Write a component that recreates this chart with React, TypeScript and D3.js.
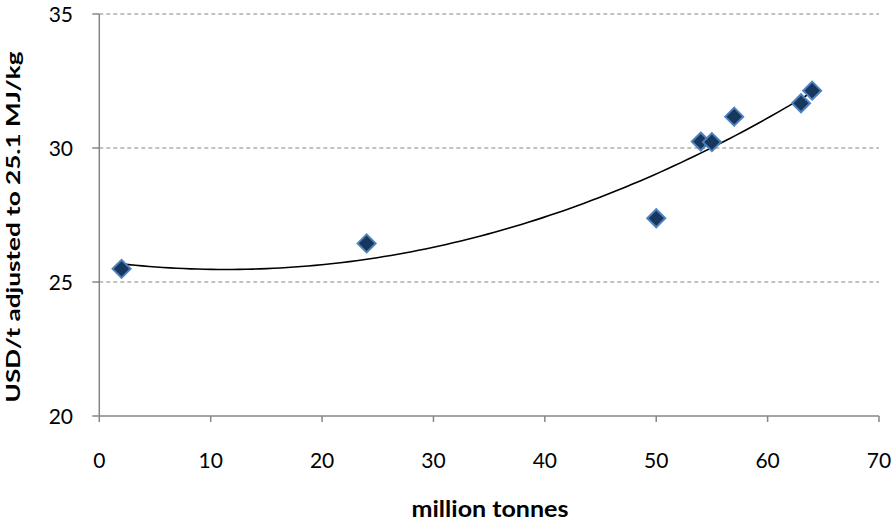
import React from "react";
import * as d3 from "d3";

const xValues = [2, 24, 50, 54, 55, 57, 63, 64];
const yValues = [25.49, 26.44, 27.38, 30.24, 30.22, 31.17, 31.67, 32.14];
const xTicks = [0, 10, 20, 30, 40, 50, 60, 70];
const yTicks = [20, 25, 30, 35];

function quadFit(xs: number[], ys: number[]) {
  const n = xs.length;
  const s = [0, 0, 0, 0, 0];
  const t = [0, 0, 0];
  for (let i = 0; i < n; i++) {
    const x = xs[i], y = ys[i];
    for (let k = 0; k < 5; k++) s[k] += Math.pow(x, k);
    for (let k = 0; k < 3; k++) t[k] += y * Math.pow(x, k);
  }
  const M = [
    [s[0], s[1], s[2], t[0]],
    [s[1], s[2], s[3], t[1]],
    [s[2], s[3], s[4], t[2]],
  ];
  for (let i = 0; i < 3; i++) {
    let p = i;
    for (let r = i + 1; r < 3; r++) if (Math.abs(M[r][i]) > Math.abs(M[p][i])) p = r;
    [M[i], M[p]] = [M[p], M[i]];
    for (let r = 0; r < 3; r++) {
      if (r === i) continue;
      const f = M[r][i] / M[i][i];
      for (let c = i; c < 4; c++) M[r][c] -= f * M[i][c];
    }
  }
  return [M[0][3] / M[0][0], M[1][3] / M[1][1], M[2][3] / M[2][2]];
}

export default function App() {
  const W = 893, H = 523;
  const left = 99.3, right = 879, top = 14, bottom = 416;
  const x = d3.scaleLinear().domain([0, 70]).range([left, right]);
  const y = d3.scaleLinear().domain([20, 35]).range([bottom, top]);
  const [a, b, c] = quadFit(xValues, yValues);
  const xmin = d3.min(xValues)!, xmax = d3.max(xValues)!;
  const pts: [number, number][] = d3.range(0, 101).map((i) => {
    const xv = xmin + ((xmax - xmin) * i) / 100;
    return [xv, a + b * xv + c * xv * xv];
  });
  const line = d3.line<[number, number]>().x((d) => x(d[0])).y((d) => y(d[1]));
  const font = "Lato, 'Open Sans', sans-serif";
  const axisColor = "#868686";
  const r = 9;
  return (
    <svg width={W} height={H} style={{ position: "absolute", left: 0, top: 0 }} fontFamily={font}>
      {yTicks.filter((t) => t !== 20).map((t) => (
        <line key={"g" + t} x1={left} x2={right} y1={y(t)} y2={y(t)} stroke={axisColor} strokeWidth={1.2} strokeDasharray="4,3" />
      ))}
      <line x1={left} x2={left} y1={top} y2={bottom} stroke={axisColor} strokeWidth={1.5} />
      <line x1={left} x2={right} y1={bottom} y2={bottom} stroke={axisColor} strokeWidth={1.5} />
      {yTicks.map((t) => (
        <g key={"y" + t}>
          <line x1={left - 7} x2={left} y1={y(t)} y2={y(t)} stroke={axisColor} strokeWidth={1.5} />
          <text x={73} y={y(t)} dy="0.36em" textAnchor="end" fontSize={21} fill="#000">{t}</text>
        </g>
      ))}
      {xTicks.map((t) => (
        <g key={"x" + t}>
          <line x1={x(t)} x2={x(t)} y1={bottom} y2={bottom + 6} stroke={axisColor} strokeWidth={1.5} />
          <text x={x(t)} y={460} dy="0.36em" textAnchor="middle" fontSize={21} fill="#000">{t}</text>
        </g>
      ))}
      <path d={line(pts) || ""} fill="none" stroke="#000" strokeWidth={1.6} />
      {xValues.map((xv, i) => {
        const cx = x(xv), cy = y(yValues[i]);
        return (
          <path key={"p" + i} d={`M${cx},${cy - r}L${cx + r},${cy}L${cx},${cy + r}L${cx - r},${cy}Z`} fill="#17375E" stroke="#4F81BD" strokeWidth={2} />
        );
      })}
      <text x={490} y={517} textAnchor="middle" fontSize={22} fontWeight="bold" fill="#000" textLength={157} lengthAdjust="spacingAndGlyphs">million tonnes</text>
      <text transform={`translate(20,227) rotate(-90)`} textAnchor="middle" fontSize={19} fontWeight="bold" fill="#000" textLength={351} lengthAdjust="spacingAndGlyphs">USD/t adjusted to 25.1 MJ/kg</text>
    </svg>
  );
}
